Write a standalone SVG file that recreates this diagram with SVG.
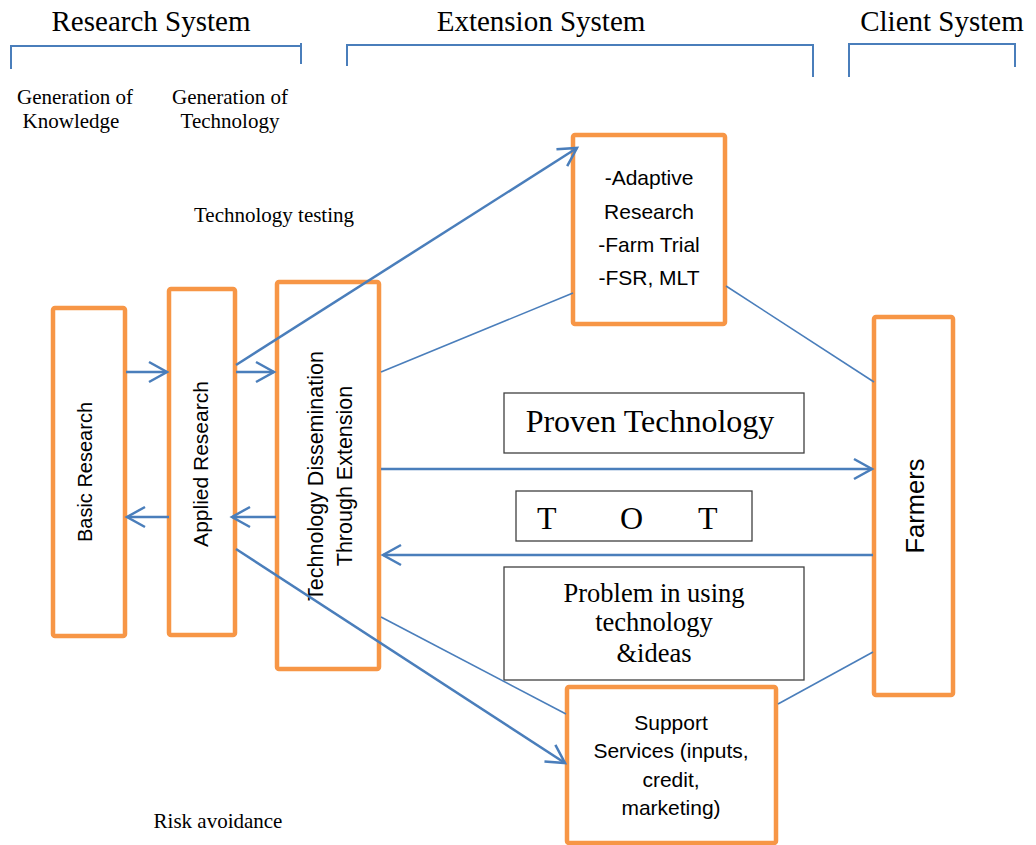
<svg xmlns="http://www.w3.org/2000/svg" width="1036" height="845" viewBox="0 0 1036 845">
<defs>
<marker id="chev" markerUnits="userSpaceOnUse" markerWidth="24" markerHeight="26" viewBox="-21 -13 24 26" refX="0" refY="0" orient="auto" overflow="visible">
<path d="M-18,-10 L0,0 L-18,10" fill="none" stroke="#4A7EBB" stroke-width="2.5" stroke-linejoin="miter"/>
</marker>
<style>
.serif{font-family:"Liberation Serif","Times New Roman",serif;fill:#000}
.sans{font-family:"Liberation Sans",Arial,sans-serif;fill:#000}
.node{fill:#fff;stroke:#F79646;stroke-width:4.5}
.lbl{fill:#fff;stroke:#404040;stroke-width:1.3}
.br{fill:none;stroke:#4A7EBB;stroke-width:2}
.arr{fill:none;stroke:#4A7EBB;stroke-width:2.5;marker-end:url(#chev)}
.ln{fill:none;stroke:#4A7EBB;stroke-width:1.6}
</style>
</defs>
<rect width="1036" height="845" fill="#fff"/>

<g id="headers">
<text class="serif" x="151" y="31" font-size="29" text-anchor="middle">Research System</text>
<text class="serif" x="541" y="31" font-size="29" text-anchor="middle">Extension System</text>
<text class="serif" x="942" y="31" font-size="29" text-anchor="middle">Client System</text>
<path class="br" d="M11,69 V46 H301 M301,43 V64"/>
<path class="br" d="M347,66 V45 H813 V77"/>
<path class="br" d="M849,77 V44 H1015 V67"/>
<text class="serif" x="75" y="104" font-size="21" text-anchor="middle">Generation of</text>
<text class="serif" x="71" y="128" font-size="21" text-anchor="middle">Knowledge</text>
<text class="serif" x="230" y="104" font-size="21" text-anchor="middle">Generation of</text>
<text class="serif" x="230" y="128" font-size="21" text-anchor="middle">Technology</text>
<text class="serif" x="274" y="222" font-size="21" text-anchor="middle">Technology testing</text>
<text class="serif" x="218" y="828" font-size="21" text-anchor="middle">Risk avoidance</text>
</g>

<g id="basic-research">
<rect class="node" x="53" y="308" width="72" height="328" rx="2"/>
<text class="sans" transform="translate(89,472) rotate(-90)" x="0" y="3" font-size="20" text-anchor="middle">Basic Research</text>
</g>

<g id="applied-research">
<rect class="node" x="169" y="289" width="66" height="346" rx="2"/>
<text class="sans" transform="translate(202,464) rotate(-90)" x="0" y="6" font-size="21" text-anchor="middle">Applied Research</text>
</g>

<g id="technology-dissemination">
<rect class="node" x="277" y="282" width="102" height="387" rx="2"/>
<text class="sans" transform="translate(328,476) rotate(-90)" font-size="21.5" text-anchor="middle"><tspan x="0" y="-5">Technology Dissemination</tspan><tspan x="0" y="24">Through Extension</tspan></text>
</g>

<g id="adaptive-research">
<rect class="node" x="573" y="135" width="152" height="189" rx="2"/>
<text class="sans" font-size="21" text-anchor="middle"><tspan x="649" y="185">-Adaptive</tspan><tspan x="649" y="219">Research</tspan><tspan x="649" y="252">-Farm Trial</tspan><tspan x="649" y="285">-FSR, MLT</tspan></text>
</g>

<g id="farmers">
<rect class="node" x="874" y="317" width="79" height="378" rx="2"/>
<text class="sans" transform="translate(913,506) rotate(-90)" x="0" y="11" font-size="25.5" text-anchor="middle">Farmers</text>
</g>

<g id="support-services">
<rect class="node" x="567" y="687" width="209" height="156" rx="2"/>
<text class="sans" font-size="21" text-anchor="middle"><tspan x="671" y="730">Support</tspan><tspan x="671" y="758">Services (inputs,</tspan><tspan x="671" y="787">credit,</tspan><tspan x="671" y="815">marketing)</tspan></text>
</g>

<g id="proven-technology">
<rect class="lbl" x="504" y="393" width="300" height="60"/>
<text class="serif" x="650" y="432" font-size="32" text-anchor="middle">Proven Technology</text>
</g>

<g id="tot">
<rect class="lbl" x="516" y="491" width="236" height="50"/>
<text class="serif" font-size="32"><tspan x="537" y="529">T</tspan><tspan x="620" y="529">O</tspan><tspan x="698" y="529">T</tspan></text>
</g>

<g id="problem">
<rect class="lbl" x="504" y="567" width="300" height="113"/>
<text class="serif" font-size="26.5" text-anchor="middle"><tspan x="654" y="602">Problem in using</tspan><tspan x="654" y="631">technology</tspan><tspan x="654" y="662">&amp;ideas</tspan></text>
</g>

<g id="connectors">
<line class="arr" x1="126" y1="372" x2="167" y2="372"/>
<line class="arr" x1="236" y1="372" x2="274" y2="372"/>
<line class="arr" x1="276" y1="517" x2="232" y2="517"/>
<line class="arr" x1="169" y1="517" x2="127" y2="517"/>
<line class="arr" x1="236" y1="365" x2="577" y2="148"/>
<line class="arr" x1="236" y1="549" x2="565" y2="763"/>
<line class="arr" x1="381" y1="469" x2="872" y2="469"/>
<line class="arr" x1="873" y1="555" x2="383" y2="555"/>
<line class="ln" x1="381" y1="372" x2="573" y2="293"/>
<line class="ln" x1="726" y1="286" x2="874" y2="382"/>
<line class="ln" x1="381" y1="617" x2="566" y2="714"/>
<line class="ln" x1="778" y1="704" x2="873" y2="652"/>
</g>
</svg>
